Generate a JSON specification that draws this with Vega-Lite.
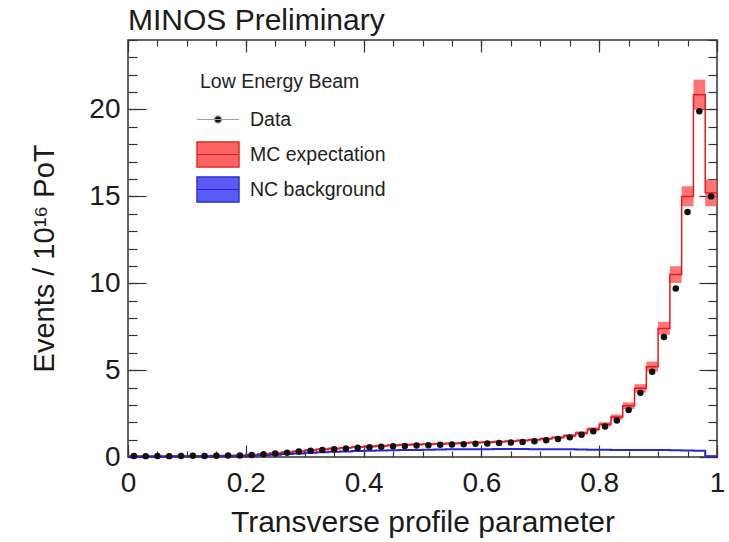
{
  "$schema": "https://vega.github.io/schema/vega-lite/v6.json",
  "width": 589,
  "height": 417,
  "autosize": {"type": "none"},
  "padding": {"left": 128, "top": 40, "right": 12, "bottom": 85},
  "background": "white",
  "title": {
    "text": "MINOS Preliminary",
    "anchor": "start",
    "frame": "group",
    "font": "Liberation Sans",
    "fontSize": 30,
    "fontWeight": "normal",
    "color": "#1a1a1a",
    "baseline": "alphabetic",
    "offset": 8,
    "dy": 29
  },
  "config": {
    "font": "Liberation Sans",
    "view": {"stroke": "#333333", "strokeWidth": 1.5},
    "axis": {
      "grid": false,
      "domain": false,
      "labelFont": "Liberation Sans",
      "titleFont": "Liberation Sans",
      "tickColor": "#333333",
      "tickWidth": 1.2,
      "labelColor": "#1a1a1a",
      "titleColor": "#1a1a1a",
      "titleFontWeight": "normal"
    },
    "legend": {
      "orient": "none", "legendX": 72, "legendY": 33,
      "padding": 0, "rowPadding": 0, "symbolSize": 1156,
      "symbolStrokeWidth": 1.2, "symbolOpacity": 1,
      "labelOffset": 14, "titlePadding": 9,
      "titleFont": "Liberation Sans", "titleFontSize": 19.5,
      "titleFontWeight": "normal", "titleColor": "#222222",
      "labelFont": "Liberation Sans", "labelFontSize": 19.5,
      "labelColor": "#222222"
    }
  },
  "data": {
    "values": [
      {"lo": 0.00, "hi": 0.02, "x": 0.01, "data": 0.06, "mc": 0.06, "band_lo": 0.02, "band_hi": 0.10, "nc": 0.02},
      {"lo": 0.02, "hi": 0.04, "x": 0.03, "data": 0.05, "mc": 0.06, "band_lo": 0.02, "band_hi": 0.10, "nc": 0.02},
      {"lo": 0.04, "hi": 0.06, "x": 0.05, "data": 0.06, "mc": 0.06, "band_lo": 0.02, "band_hi": 0.10, "nc": 0.02},
      {"lo": 0.06, "hi": 0.08, "x": 0.07, "data": 0.05, "mc": 0.06, "band_lo": 0.02, "band_hi": 0.10, "nc": 0.02},
      {"lo": 0.08, "hi": 0.10, "x": 0.09, "data": 0.06, "mc": 0.07, "band_lo": 0.03, "band_hi": 0.11, "nc": 0.03},
      {"lo": 0.10, "hi": 0.12, "x": 0.11, "data": 0.07, "mc": 0.07, "band_lo": 0.03, "band_hi": 0.11, "nc": 0.03},
      {"lo": 0.12, "hi": 0.14, "x": 0.13, "data": 0.06, "mc": 0.07, "band_lo": 0.03, "band_hi": 0.11, "nc": 0.03},
      {"lo": 0.14, "hi": 0.16, "x": 0.15, "data": 0.07, "mc": 0.08, "band_lo": 0.04, "band_hi": 0.12, "nc": 0.04},
      {"lo": 0.16, "hi": 0.18, "x": 0.17, "data": 0.08, "mc": 0.09, "band_lo": 0.05, "band_hi": 0.13, "nc": 0.04},
      {"lo": 0.18, "hi": 0.20, "x": 0.19, "data": 0.09, "mc": 0.10, "band_lo": 0.06, "band_hi": 0.14, "nc": 0.05},
      {"lo": 0.20, "hi": 0.22, "x": 0.21, "data": 0.12, "mc": 0.13, "band_lo": 0.08, "band_hi": 0.18, "nc": 0.07},
      {"lo": 0.22, "hi": 0.24, "x": 0.23, "data": 0.16, "mc": 0.17, "band_lo": 0.12, "band_hi": 0.22, "nc": 0.10},
      {"lo": 0.24, "hi": 0.26, "x": 0.25, "data": 0.20, "mc": 0.22, "band_lo": 0.16, "band_hi": 0.28, "nc": 0.13},
      {"lo": 0.26, "hi": 0.28, "x": 0.27, "data": 0.25, "mc": 0.27, "band_lo": 0.21, "band_hi": 0.33, "nc": 0.17},
      {"lo": 0.28, "hi": 0.30, "x": 0.29, "data": 0.31, "mc": 0.33, "band_lo": 0.27, "band_hi": 0.39, "nc": 0.20},
      {"lo": 0.30, "hi": 0.32, "x": 0.31, "data": 0.36, "mc": 0.39, "band_lo": 0.33, "band_hi": 0.45, "nc": 0.24},
      {"lo": 0.32, "hi": 0.34, "x": 0.33, "data": 0.41, "mc": 0.44, "band_lo": 0.38, "band_hi": 0.50, "nc": 0.27},
      {"lo": 0.34, "hi": 0.36, "x": 0.35, "data": 0.45, "mc": 0.49, "band_lo": 0.43, "band_hi": 0.55, "nc": 0.30},
      {"lo": 0.36, "hi": 0.38, "x": 0.37, "data": 0.49, "mc": 0.53, "band_lo": 0.47, "band_hi": 0.59, "nc": 0.32},
      {"lo": 0.38, "hi": 0.40, "x": 0.39, "data": 0.53, "mc": 0.57, "band_lo": 0.51, "band_hi": 0.63, "nc": 0.34},
      {"lo": 0.40, "hi": 0.42, "x": 0.41, "data": 0.56, "mc": 0.61, "band_lo": 0.54, "band_hi": 0.68, "nc": 0.36},
      {"lo": 0.42, "hi": 0.44, "x": 0.43, "data": 0.59, "mc": 0.64, "band_lo": 0.57, "band_hi": 0.71, "nc": 0.38},
      {"lo": 0.44, "hi": 0.46, "x": 0.45, "data": 0.62, "mc": 0.67, "band_lo": 0.60, "band_hi": 0.74, "nc": 0.39},
      {"lo": 0.46, "hi": 0.48, "x": 0.47, "data": 0.64, "mc": 0.70, "band_lo": 0.63, "band_hi": 0.77, "nc": 0.40},
      {"lo": 0.48, "hi": 0.50, "x": 0.49, "data": 0.66, "mc": 0.72, "band_lo": 0.65, "band_hi": 0.79, "nc": 0.41},
      {"lo": 0.50, "hi": 0.52, "x": 0.51, "data": 0.68, "mc": 0.74, "band_lo": 0.67, "band_hi": 0.81, "nc": 0.42},
      {"lo": 0.52, "hi": 0.54, "x": 0.53, "data": 0.70, "mc": 0.76, "band_lo": 0.69, "band_hi": 0.83, "nc": 0.43},
      {"lo": 0.54, "hi": 0.56, "x": 0.55, "data": 0.72, "mc": 0.78, "band_lo": 0.71, "band_hi": 0.85, "nc": 0.44},
      {"lo": 0.56, "hi": 0.58, "x": 0.57, "data": 0.74, "mc": 0.80, "band_lo": 0.73, "band_hi": 0.87, "nc": 0.44},
      {"lo": 0.58, "hi": 0.60, "x": 0.59, "data": 0.76, "mc": 0.83, "band_lo": 0.76, "band_hi": 0.90, "nc": 0.45},
      {"lo": 0.60, "hi": 0.62, "x": 0.61, "data": 0.78, "mc": 0.85, "band_lo": 0.78, "band_hi": 0.92, "nc": 0.45},
      {"lo": 0.62, "hi": 0.64, "x": 0.63, "data": 0.81, "mc": 0.88, "band_lo": 0.81, "band_hi": 0.95, "nc": 0.46},
      {"lo": 0.64, "hi": 0.66, "x": 0.65, "data": 0.83, "mc": 0.91, "band_lo": 0.84, "band_hi": 0.98, "nc": 0.46},
      {"lo": 0.66, "hi": 0.68, "x": 0.67, "data": 0.87, "mc": 0.95, "band_lo": 0.88, "band_hi": 1.02, "nc": 0.46},
      {"lo": 0.68, "hi": 0.70, "x": 0.69, "data": 0.91, "mc": 0.99, "band_lo": 0.92, "band_hi": 1.06, "nc": 0.45},
      {"lo": 0.70, "hi": 0.72, "x": 0.71, "data": 0.96, "mc": 1.05, "band_lo": 0.97, "band_hi": 1.13, "nc": 0.45},
      {"lo": 0.72, "hi": 0.74, "x": 0.73, "data": 1.03, "mc": 1.12, "band_lo": 1.04, "band_hi": 1.20, "nc": 0.44},
      {"lo": 0.74, "hi": 0.76, "x": 0.75, "data": 1.13, "mc": 1.23, "band_lo": 1.14, "band_hi": 1.32, "nc": 0.44},
      {"lo": 0.76, "hi": 0.78, "x": 0.77, "data": 1.28, "mc": 1.38, "band_lo": 1.28, "band_hi": 1.48, "nc": 0.43},
      {"lo": 0.78, "hi": 0.80, "x": 0.79, "data": 1.48, "mc": 1.60, "band_lo": 1.49, "band_hi": 1.71, "nc": 0.42},
      {"lo": 0.80, "hi": 0.82, "x": 0.81, "data": 1.75, "mc": 1.88, "band_lo": 1.76, "band_hi": 2.00, "nc": 0.42},
      {"lo": 0.82, "hi": 0.84, "x": 0.83, "data": 2.10, "mc": 2.30, "band_lo": 2.15, "band_hi": 2.45, "nc": 0.41},
      {"lo": 0.84, "hi": 0.86, "x": 0.85, "data": 2.70, "mc": 2.95, "band_lo": 2.76, "band_hi": 3.14, "nc": 0.41},
      {"lo": 0.86, "hi": 0.88, "x": 0.87, "data": 3.70, "mc": 3.95, "band_lo": 3.71, "band_hi": 4.19, "nc": 0.40},
      {"lo": 0.88, "hi": 0.90, "x": 0.89, "data": 4.90, "mc": 5.20, "band_lo": 4.92, "band_hi": 5.49, "nc": 0.40},
      {"lo": 0.90, "hi": 0.92, "x": 0.91, "data": 6.90, "mc": 7.40, "band_lo": 7.03, "band_hi": 7.78, "nc": 0.40},
      {"lo": 0.92, "hi": 0.94, "x": 0.93, "data": 9.70, "mc": 10.50, "band_lo": 10.02, "band_hi": 10.98, "nc": 0.39},
      {"lo": 0.94, "hi": 0.96, "x": 0.95, "data": 14.10, "mc": 15.00, "band_lo": 14.43, "band_hi": 15.58, "nc": 0.38},
      {"lo": 0.96, "hi": 0.98, "x": 0.97, "data": 19.90, "mc": 20.85, "band_lo": 19.98, "band_hi": 21.72, "nc": 0.36},
      {"lo": 0.98, "hi": 1.00, "x": 0.99, "data": 15.00, "mc": 15.20, "band_lo": 14.43, "band_hi": 15.97, "nc": 0.05}
    ]
  },
  "resolve": {"axis": {"x": "independent", "y": "independent"}},
  "layer": [
    {
      "mark": {"type": "rect", "opacity": 0.75, "color": "#ff4646"},
      "encoding": {
        "x": {
          "field": "lo", "type": "quantitative",
          "scale": {"domain": [0, 1], "nice": false, "zero": false},
          "axis": {
            "orient": "bottom", "title": "Transverse profile parameter",
            "values": [0, 0.2, 0.4, 0.6, 0.8, 1], "format": "~g",
            "ticks": false, "labelFontSize": 28, "labelPadding": 12,
            "labelFlush": false, "labelOverlap": false,
            "titleFontSize": 30, "titlePadding": 10
          }
        },
        "x2": {"field": "hi"},
        "y": {
          "field": "band_lo", "type": "quantitative",
          "scale": {"domain": [0, 24], "nice": false},
          "axis": {
            "orient": "left", "title": "Events / 10¹⁶ PoT",
            "values": [0, 5, 10, 15, 20], "ticks": false,
            "labelFontSize": 28, "labelPadding": 8, "labelOverlap": false,
            "titleFontSize": 29, "titleX": -69, "titleY": 218
          }
        },
        "y2": {"field": "band_hi"}
      }
    },
    {
      "mark": {"type": "line", "interpolate": "step-after", "color": "#e8191e", "strokeWidth": 1.5},
      "encoding": {
        "x": {
          "field": "lo", "type": "quantitative",
          "scale": {"domain": [0, 1], "nice": false, "zero": false},
          "axis": {"orient": "bottom", "title": null, "labels": false, "values": [0, 0.2, 0.4, 0.6, 0.8, 1], "tickSize": -12}
        },
        "y": {
          "field": "mc", "type": "quantitative",
          "scale": {"domain": [0, 24], "nice": false},
          "axis": {"orient": "left", "title": null, "labels": false, "values": [0, 5, 10, 15, 20], "tickSize": -18}
        }
      }
    },
    {
      "transform": [{"filter": "datum.lo > 0.97"}],
      "mark": {"type": "rule", "color": "#e8191e", "strokeWidth": 1.5},
      "encoding": {
        "x": {
          "field": "lo", "type": "quantitative",
          "scale": {"domain": [0, 1], "nice": false, "zero": false},
          "axis": {"orient": "bottom", "title": null, "labels": false, "values": [0, 0.05, 0.1, 0.15, 0.2, 0.25, 0.3, 0.35, 0.4, 0.45, 0.5, 0.55, 0.6, 0.65, 0.7, 0.75, 0.8, 0.85, 0.9, 0.95, 1], "tickSize": -6}
        },
        "x2": {"field": "hi"},
        "y": {
          "field": "mc", "type": "quantitative",
          "scale": {"domain": [0, 24], "nice": false},
          "axis": {"orient": "left", "title": null, "labels": false, "values": [0, 1, 2, 3, 4, 5, 6, 7, 8, 9, 10, 11, 12, 13, 14, 15, 16, 17, 18, 19, 20, 21, 22, 23, 24], "tickSize": -9}
        }
      }
    },
    {
      "mark": {"type": "line", "interpolate": "step-after", "strokeWidth": 2, "color": "#2828d2"},
      "encoding": {
        "x": {
          "field": "lo", "type": "quantitative",
          "scale": {"domain": [0, 1], "nice": false, "zero": false},
          "axis": {"orient": "top", "title": null, "labels": false, "values": [0, 0.2, 0.4, 0.6, 0.8, 1], "tickSize": -12}
        },
        "y": {
          "field": "nc", "type": "quantitative",
          "scale": {"domain": [0, 24], "nice": false},
          "axis": {"orient": "right", "title": null, "labels": false, "values": [0, 5, 10, 15, 20], "tickSize": -18}
        }
      }
    },
    {
      "transform": [{"filter": "datum.lo > 0.97"}],
      "mark": {"type": "rule", "color": "#2828d2", "strokeWidth": 2},
      "encoding": {
        "x": {
          "field": "lo", "type": "quantitative",
          "scale": {"domain": [0, 1], "nice": false, "zero": false},
          "axis": {"orient": "top", "title": null, "labels": false, "values": [0, 0.05, 0.1, 0.15, 0.2, 0.25, 0.3, 0.35, 0.4, 0.45, 0.5, 0.55, 0.6, 0.65, 0.7, 0.75, 0.8, 0.85, 0.9, 0.95, 1], "tickSize": -6}
        },
        "x2": {"field": "hi"},
        "y": {
          "field": "nc", "type": "quantitative",
          "scale": {"domain": [0, 24], "nice": false},
          "axis": {"orient": "right", "title": null, "labels": false, "values": [0, 1, 2, 3, 4, 5, 6, 7, 8, 9, 10, 11, 12, 13, 14, 15, 16, 17, 18, 19, 20, 21, 22, 23, 24], "tickSize": -9}
        }
      }
    },
    {
      "mark": {"type": "point", "filled": true, "size": 42, "opacity": 1, "color": "#111111"},
      "encoding": {
        "x": {"field": "x", "type": "quantitative", "scale": {"domain": [0, 1], "nice": false, "zero": false}, "axis": null},
        "y": {"field": "data", "type": "quantitative", "scale": {"domain": [0, 24], "nice": false}, "axis": null}
      }
    },
    {
      "transform": [{"filter": "datum.lo > 5"}],
      "mark": {"type": "point", "filled": true, "opacity": 1, "strokeWidth": 1.2},
      "encoding": {
        "x": {"field": "x", "type": "quantitative", "scale": {"domain": [0, 1], "nice": false, "zero": false}, "axis": null},
        "y": {"field": "data", "type": "quantitative", "scale": {"domain": [0, 24], "nice": false}, "axis": null},
        "color": {
          "datum": "Data", "type": "nominal",
          "scale": {"domain": ["Data", "MC expectation", "NC background"], "range": ["#111111", "#fa6464", "#5a5af5"]},
          "legend": {"title": "Low Energy Beam"}
        },
        "shape": {
          "datum": "Data", "type": "nominal",
          "scale": {
            "domain": ["Data", "MC expectation", "NC background"],
            "range": [
              "M0,-0.82M0,0.82M-1.24,0H1.24M0.21,0A0.21,0.21 0 1,1 -0.21,0A0.21,0.21 0 1,1 0.21,0Z",
              "M0,-0.82M0,0.82M-1.24,-0.74H1.24V0.74H-1.24ZM-1.24,0H1.24",
              "M0,-0.82M0,0.82M-1.24,-0.74H1.24V0.74H-1.24ZM-1.24,0H1.24"
            ]
          },
          "legend": {"title": "Low Energy Beam"}
        },
        "stroke": {
          "datum": "Data", "type": "nominal",
          "scale": {"domain": ["Data", "MC expectation", "NC background"], "range": ["#a0a0a0", "#e01818", "#2020c8"]},
          "legend": {"title": "Low Energy Beam"}
        }
      }
    }
  ]
}
